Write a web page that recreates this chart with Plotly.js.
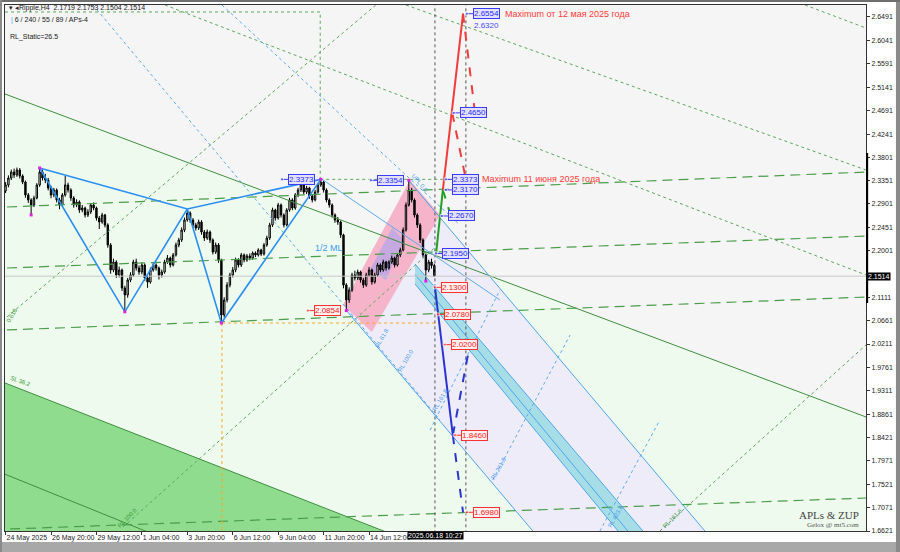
<!DOCTYPE html>
<html><head><meta charset="utf-8">
<script src="https://cdn.plot.ly/plotly-3.0.1.min.js"></script>
<style>html,body{margin:0;padding:0;background:#fff}#chart{width:900px;height:552px}</style>
</head><body><div id="chart"></div>
<script>
// ---- candles (H4 bars, index 0 = 26 May 20:00) ----
const barFirst = -16;
const barOpen = [2.3150,2.3265,2.3399,2.3514,2.3457,2.3553,2.3438,2.3322,2.3073,2.2977,
2.2881,2.3015,2.3265,2.3514,2.3399,2.3361,
2.3207,2.3073,2.3169,2.2977,2.2881,2.3073,2.3265,2.3169,2.3015,2.2881,
2.2938,2.2785,2.2823,2.2689,2.2746,2.2881,2.2823,2.2631,2.2554,2.2689,
2.2497,2.2113,2.1633,2.1786,2.1537,2.1633,2.1287,2.1153,2.1441,2.1537,
2.1786,2.1671,2.1594,2.1729,2.1479,2.1402,2.1633,2.1729,2.1671,2.1537,
2.1594,2.1786,2.1863,2.1729,2.1921,2.2113,2.2209,2.2401,2.2593,2.2727,
2.2593,2.2497,2.2439,2.2554,2.2362,2.2247,2.2362,2.2209,2.1978,2.2113,
2.1825,2.0769,2.1057,2.1345,2.1537,2.1633,2.1825,2.1729,2.1921,2.1825,
2.1902,2.1863,2.1959,2.1921,2.2017,2.1940,2.2113,2.2247,2.2497,2.2785,
2.2631,2.2881,2.2689,2.2497,2.2785,2.2977,2.2823,2.3073,2.3169,2.3265,
2.3130,2.3207,2.3054,2.2977,2.3130,2.3265,2.3322,2.3169,2.2977,2.2881,
2.2689,2.2593,2.2554,2.2305,2.1345,2.1057,2.1249,2.1537,2.1479,2.1594,
2.1441,2.1345,2.1537,2.1633,2.1402,2.1537,2.1729,2.1633,2.1786,2.1671,
2.1786,2.1863,2.1729,2.1921,2.2017,2.2401,2.2881,2.3169,2.2977,2.2689,
2.2497,2.2209,2.1921,2.1633,2.1786,2.1719];
const barHigh = [2.3320,2.3450,2.3560,2.3580,2.3600,2.3590,2.3470,2.3350,2.3110,2.3010,
2.3060,2.3300,2.3591,2.3560,2.3480,2.3400,
2.3250,2.3210,2.3200,2.3020,2.3110,2.3440,2.3310,2.3200,2.3050,2.2990,
2.2970,2.2880,2.2850,2.2800,2.2920,2.2930,2.2850,2.2670,2.2730,2.2710,
2.2530,2.2150,2.1850,2.1820,2.1700,2.1660,2.1330,2.1480,2.1590,2.1830,
2.1850,2.1720,2.1780,2.1760,2.1520,2.1680,2.1770,2.1760,2.1700,2.1640,
2.1830,2.1920,2.1890,2.1960,2.2160,2.2250,2.2450,2.2640,2.2805,2.2760,
2.2630,2.2540,2.2600,2.2590,2.2400,2.2410,2.2390,2.2240,2.2160,2.2150,
2.1850,2.1110,2.1400,2.1580,2.1690,2.1870,2.1860,2.1960,2.1950,2.1940,
2.1950,2.1990,2.1990,2.2050,2.2040,2.2150,2.2290,2.2540,2.2830,2.2810,
2.2920,2.2910,2.2720,2.2820,2.3020,2.3010,2.3110,2.3210,2.3300,2.3290,
2.3250,2.3230,2.3090,2.3170,2.3300,2.3373,2.3350,2.3200,2.3010,2.2910,
2.2720,2.2650,2.2580,2.2330,2.1380,2.1300,2.1580,2.1620,2.1640,2.1620,
2.1480,2.1580,2.1690,2.1660,2.1580,2.1770,2.1760,2.1830,2.1810,2.1820,
2.1910,2.1890,2.1960,2.2060,2.2450,2.2930,2.3354,2.3210,2.3010,2.2720,
2.2530,2.2240,2.1950,2.1830,2.1850,2.1753];
const barLow = [2.3110,2.3220,2.3360,2.3400,2.3420,2.3390,2.3280,2.3020,2.2920,2.2690,
2.2840,2.2990,2.3230,2.3350,2.3300,2.3160,
2.3010,2.3030,2.2930,2.2800,2.2850,2.3040,2.3120,2.2960,2.2830,2.2840,
2.2730,2.2740,2.2640,2.2650,2.2710,2.2780,2.2580,2.2420,2.2520,2.2450,
2.2060,2.1560,2.1590,2.1480,2.1490,2.1230,2.0830,2.1100,2.1400,2.1500,
2.1620,2.1540,2.1550,2.1420,2.1290,2.1370,2.1600,2.1620,2.1450,2.1490,
2.1560,2.1750,2.1680,2.1700,2.1890,2.2070,2.2170,2.2360,2.2560,2.2540,
2.2440,2.2390,2.2400,2.2310,2.2190,2.2210,2.2150,2.1930,2.1940,2.1770,
2.0615,2.0720,2.1010,2.1300,2.1490,2.1590,2.1680,2.1690,2.1780,2.1790,
2.1820,2.1830,2.1880,2.1890,2.1900,2.1910,2.2080,2.2210,2.2460,2.2580,
2.2600,2.2640,2.2450,2.2470,2.2750,2.2780,2.2790,2.3030,2.3130,2.3080,
2.3090,2.3000,2.2930,2.2950,2.3100,2.3230,2.3120,2.2930,2.2830,2.2640,
2.2540,2.2500,2.2250,2.1280,2.0854,2.1000,2.1210,2.1430,2.1440,2.1390,
2.1290,2.1310,2.1500,2.1350,2.1370,2.1500,2.1590,2.1600,2.1620,2.1640,
2.1750,2.1680,2.1700,2.1880,2.1990,2.2370,2.2850,2.2930,2.2640,2.2440,
2.2150,2.1870,2.1420,2.1590,2.1660,2.1504];
const barClose = [2.3265,2.3399,2.3514,2.3457,2.3553,2.3438,2.3322,2.3073,2.2977,2.2881,
2.3015,2.3265,2.3514,2.3399,2.3361,2.3207,
2.3073,2.3169,2.2977,2.2881,2.3073,2.3265,2.3169,2.3015,2.2881,2.2938,
2.2785,2.2823,2.2689,2.2746,2.2881,2.2823,2.2631,2.2554,2.2689,2.2497,
2.2113,2.1633,2.1786,2.1537,2.1633,2.1287,2.1153,2.1441,2.1537,2.1786,
2.1671,2.1594,2.1729,2.1479,2.1402,2.1633,2.1729,2.1671,2.1537,2.1594,
2.1786,2.1863,2.1729,2.1921,2.2113,2.2209,2.2401,2.2593,2.2727,2.2593,
2.2497,2.2439,2.2554,2.2362,2.2247,2.2362,2.2209,2.1978,2.2113,2.1825,
2.0769,2.1057,2.1345,2.1537,2.1633,2.1825,2.1729,2.1921,2.1825,2.1902,
2.1863,2.1959,2.1921,2.2017,2.1940,2.2113,2.2247,2.2497,2.2785,2.2631,
2.2881,2.2689,2.2497,2.2785,2.2977,2.2823,2.3073,2.3169,2.3265,2.3130,
2.3207,2.3054,2.2977,2.3130,2.3265,2.3322,2.3169,2.2977,2.2881,2.2689,
2.2593,2.2554,2.2305,2.1345,2.1057,2.1249,2.1537,2.1479,2.1594,2.1441,
2.1345,2.1537,2.1633,2.1402,2.1537,2.1729,2.1633,2.1786,2.1671,2.1786,
2.1863,2.1729,2.1921,2.2017,2.2401,2.2881,2.3169,2.2977,2.2689,2.2497,
2.2209,2.1921,2.1633,2.1786,2.1719,2.1514];
const barIndex = barClose.map((_, i) => barFirst + i);

// ---- axes ----
const xTickVals = [-16, 0, 16, 32, 48, 64, 80, 96, 112];
const xTickText = ["24 May 2025","26 May 20:00","29 May 12:00","1 Jun 04:00","3 Jun 20:00","6 Jun 12:00","9 Jun 04:00","11 Jun 20:00","14 Jun 12:00"];
const yTickVals = [2.6491,2.6041,2.5591,2.5141,2.4691,2.4241,2.3801,2.3351,2.2901,2.2451,2.2001,2.1111,2.0661,2.0211,1.9761,1.9311,1.8861,1.8421,1.7971,1.7521,1.7071,1.6621];
const yTickText = yTickVals.map(v => v.toFixed(4));
const lastPrice = 2.1514;

// ---- pattern (zigzag) ----
const zigBars = [-4, 26, 48, 60, 95];
const zigPrices = [2.3591, 2.0830, 2.2805, 2.0615, 2.3373];
const zigOuterBars = [-4, 48, 95];
const zigOuterPrices = [2.3591, 2.2805, 2.3373];
const pivotBars = [-4, -7, 26, 60, 95, 104, 126, 132];
const pivotPrices = [2.3591, 2.2690, 2.0830, 2.0615, 2.3373, 2.0854, 2.3354, 2.1420];

// ---- projection targets ----
const greenUpBars = [135.6, 138.0];   const greenUpPrices = [2.1950, 2.3170];
const greenBackBars = [138.0, 140.8]; const greenBackPrices = [2.3170, 2.2670];
const redUpBars = [138.0, 145.1];     const redUpPrices = [2.3170, 2.6554];
const redBack1Bars = [145.1, 149.3];  const redBack1Prices = [2.6554, 2.4650];
const redBack2Bars = [141.3, 146.1];  const redBack2Prices = [2.4650, 2.3373];
const blueDownBars = [135.2, 141.5];  const blueDownPrices = [2.1300, 1.8460];
const blueBack1Bars = [141.5, 147.5]; const blueBack1Prices = [1.8460, 2.0200];
const blueDown2Bars = [141.5, 145.1]; const blueDown2Prices = [1.8460, 1.6980];

const upTargets = [["2.6554",148.6],["2.4650",144.0],["2.3373",141.2],["2.3170",141.2],["2.2670",139.8],["2.1950",137.7]];
const downTargets = [["2.1300",137.3],["2.0780",138.4],["2.0200",140.8],["1.8460",144.4],["1.6980",148.6]];

// ---- channels / fans (bar, price endpoints) ----
const greenDash = [
  {b:[-15.5, 287.3], p:[2.0481, 2.1114]},
  {b:[-15.5, 287.3], p:[2.1671, 2.2285]},
  {b:[-15.5, 287.3], p:[2.2842, 2.3514]},
  {b:[-14.4, 287.3], p:[1.6660, 1.7255]}];
const greenDot = [
  {b:[-15.5, 114.4], p:[2.0730, 2.6721]},
  {b:[25.4, 137.0], p:[1.6698, 2.2151]},
  {b:[214.4, 287.0], p:[1.6621, 2.0193]},
  {b:[125.0, 287.0], p:[2.6721, 2.3553]},
  {b:[40.1, 287.0], p:[2.6721, 2.1537]},
  {b:[265.5, 287.0], p:[2.6721, 2.6279]},
  {b:[-16.2, 94.8, 94.8], p:[2.6587, 2.6587, 2.3373]},
  {b:[94.8, 146.1], p:[2.3373, 2.3373]}];
const trendLine = {b:[-20, 290], p:[2.5090, 1.8749]};
const greenZone = {b:[-20, 290, 290, -20], p:[2.5090, 1.8749, 1.60, 1.60]};
const darkZone = {b:[-20, 125, -20], p:[1.9544, 1.6453, 1.6453]};
const darkInner = {b:[-20, 36], p:[1.7795, 1.6560]};
const forkZone = {b:[104.2, 126.1, 233.7, 173.1], p:[2.0845, 2.3342, 1.64, 1.64]};
const forkA = {b:[126.1, 233.7], p:[2.3342, 1.64]};
const forkB = {b:[104.2, 173.1], p:[2.0845, 1.64]};
const bandZone = {b:[128.2, 211.9, 203.0, 128.2], p:[2.1748, 1.64, 1.64, 2.1364]};
const bandUpper = {b:[128.2, 211.9], p:[2.1748, 1.64]};
const bandMid = {b:[128.2, 206.5], p:[2.1546, 1.64]};
const bandLower = {b:[128.2, 203.0], p:[2.1364, 1.64]};
const pinkZone = {b:[102.8, 126.4, 137.0, 113.0], p:[2.0961, 2.3361, 2.2689, 2.0443]};
const purpleZone = {b:[112.3, 120.1, 124.3, 118.0], p:[2.1633, 2.2439, 2.2209, 2.1441]};
const blueDot = [
  {b:[14.8, 137.0], p:[2.6721, 1.8752]},
  {b:[60.2, 144.0], p:[2.6721, 2.2497]},
  {b:[133.5, 158.1], p:[1.8560, 2.1249]},
  {b:[155.6, 182.8], p:[1.7600, 2.0385]},
  {b:[193.3, 214.4], p:[1.6621, 1.8752]}];
const blueThin = {b:[95.8, 158.1], p:[2.3361, 2.1057]};
const orangeDot = {b:[60.2, 137.0, null, 60.2, 60.2], p:[2.0615, 2.0615, null, 2.0615, 1.60]};
const timeMarks = [135.2, 146.1];

const rlLabels = [
  ["RL 61.8",116.5,2.0327,-60,"#4a9ff0"],["RL 100.0",125.0,1.9905,-60,"#4a9ff0"],
  ["RL 161.8",137.0,1.9137,-60,"#4a9ff0"],["RL 261.8",157.7,1.7831,-60,"#4a9ff0"],
  ["RL 423.6",198.9,1.6909,-60,"#4a9ff0"],["UPL 0.0",129.9,2.3303,50,"#4a9ff0"],
  ["RL 161.8",219.0,1.6871,-45,"#3a9a3a"],["RL 100.0",26.8,1.6871,-45,"#3a9a3a"],
  ["SL 38.2",-10.9,1.9501,20,"#3a9a3a"],["0.618",-13.7,2.0769,-60,"#3a9a3a"]];

// ---- build ----
const traces = [];
const shapes = [];
function poly(z, color){
  const d = z.b.map((b, i) => (i ? 'L' : 'M') + b + ',' + z.p[i]).join(' ') + ' Z';
  shapes.push({type:'path', xref:'x', yref:'y', path:d, fillcolor:color, line:{width:0}, layer:'below'});
}
function seg(b, p, color, width, dash){ traces.push({type:'scatter', x:b, y:p, mode:'lines', line:{color:color, width:width, dash:dash||'solid'}, hoverinfo:'skip', connectgaps:false}); }

poly(greenZone, '#eefaee');
poly(darkZone, '#8fdc8f');
poly(forkZone, '#efecfa');
poly(bandZone, '#a6dde6');
poly(pinkZone, '#f6b4cb');
poly(purpleZone, '#c7a9e2');

traces.push({type:'candlestick', x:barIndex, open:barOpen, high:barHigh, low:barLow, close:barClose,
  increasing:{line:{color:'#000000', width:1}, fillcolor:'#ffffff'},
  decreasing:{line:{color:'#000000', width:1}, fillcolor:'#000000'},
  whiskerwidth:0, hoverinfo:'skip'});

seg(trendLine.b, trendLine.p, '#3f8f3f', 1);
seg(darkZone.b.slice(0,2), darkZone.p.slice(0,2), '#3f8f3f', 1);
seg(darkInner.b, darkInner.p, '#3f8f3f', 1);
greenDash.forEach(d => seg(d.b, d.p, '#4a9e4a', 1.2, '10px,6px'));
greenDot.forEach(d => seg(d.b, d.p, '#5aa85a', 1, 'dot'));
blueDot.forEach(d => seg(d.b, d.p, '#5aaaf0', 1, 'dot'));
seg(blueThin.b, blueThin.p, '#5aaaf0', 1);
seg(forkA.b, forkA.p, '#4aa6ee', 1);
seg(forkB.b, forkB.p, '#4aa6ee', 1);
seg(bandUpper.b, bandUpper.p, '#4aa6ee', 1);
seg(bandMid.b, bandMid.p, '#4aa6ee', 1);
seg(bandLower.b, bandLower.p, '#4aa6ee', 1);
seg([-20, 290], [lastPrice, lastPrice], '#c8c8c8', 1);
seg(orangeDot.b, orangeDot.p, '#f5a623', 1, 'dot');
timeMarks.forEach(t => seg([t, t], [1.60, 2.70], '#555555', 1, 'dot'));

seg(zigBars, zigPrices, '#2a8ff0', 1.6);
seg(zigOuterBars, zigOuterPrices, '#2a8ff0', 1.6);
traces.push({type:'scatter', x:pivotBars, y:pivotPrices, mode:'markers', marker:{symbol:'square', size:3, color:'#e020e0'}, hoverinfo:'skip'});
seg(greenUpBars, greenUpPrices, '#22a022', 2);
seg(greenBackBars, greenBackPrices, '#22a022', 2, 'dash');
seg(redUpBars, redUpPrices, '#f03c3c', 2);
seg(redBack1Bars, redBack1Prices, '#f03c3c', 2, 'dash');
seg(redBack2Bars, redBack2Prices, '#f03c3c', 2, 'dash');
seg(blueDownBars, blueDownPrices, '#2a35d0', 2);
seg(blueBack1Bars, blueBack1Prices, '#2a35d0', 2, 'dash');
seg(blueDown2Bars, blueDown2Prices, '#2a35d0', 2, 'dash');

// ---- annotations ----
const ann = [];
const F = 'Liberation Sans, Arial, sans-serif';
function box(txt, b, up){
  const p = parseFloat(txt), col = up ? '#3a3aff' : '#ff3030';
  traces.push({type:'scatter', x:[b - 2.2, b], y:[p, p], mode:'lines+markers', line:{color:col, width:1},
    marker:{symbol:'square', size:[3, 0], color:col}, hoverinfo:'skip'});
  ann.push({x:b, y:p, xref:'x', yref:'y', text:txt, showarrow:false, xanchor:'left', yanchor:'middle',
    font:{family:F, size:8, color: up ? '#2a2aff' : '#ff2020'}, bgcolor: up ? '#e2e2ff' : '#fff0f0',
    bordercolor: col, borderwidth:1, borderpad:0});
}
upTargets.forEach(t => box(t[0], t[1], true));
downTargets.forEach(t => box(t[0], t[1], false));
box("2.3373", 83.5, true);
box("2.3354", 114.8, true);
box("2.0854", 92.6, false);
ann.push({x:148.2, y:2.6320, xref:'x', yref:'y', text:'2.6320', showarrow:false, xanchor:'left', font:{family:F,size:8,color:'#4a4aff'}});
ann.push({x:159.2, y:2.6554, xref:'x', yref:'y', text:'Maximum от 12 мая 2025 года', showarrow:false, xanchor:'left', font:{family:F,size:9,color:'#ff3b3b'}});
ann.push({x:151.1, y:2.3373, xref:'x', yref:'y', text:'Maximum 11 июня 2025 года', showarrow:false, xanchor:'left', font:{family:F,size:9,color:'#ff3b3b'}});
ann.push({x:98, y:2.2055, xref:'x', yref:'y', text:'1/2 ML', showarrow:false, font:{family:F,size:9,color:'#3d9bf0'}});
rlLabels.forEach(l => ann.push({x:l[1], y:l[2], xref:'x', yref:'y', text:l[0], textangle:l[3], showarrow:false, font:{family:F,size:6,color:l[4]}}));
ann.push({x:1.0, y:lastPrice, xref:'paper', yref:'y', text:'2.1514', showarrow:false, xanchor:'left', xshift:1, bgcolor:'#000', font:{family:F,size:7,color:'#fff'}, borderpad:0});
ann.push({x:125.4, y:-0.0095, xref:'x', yref:'paper', text:'2025.06.18 10:27', showarrow:false, xanchor:'left', yanchor:'middle', bgcolor:'#000', font:{family:F,size:7,color:'#fff'}, borderpad:0});
ann.push({x:0.0023, y:0.9943, xref:'paper', yref:'paper', text:'▾ ◂Ripple,H4  2.1719 2.1753 2.1504 2.1514', showarrow:false, xanchor:'left', yanchor:'middle', font:{family:F,size:7,color:'#222'}});
ann.push({x:0.005, y:0.9715, xref:'paper', yref:'paper', text:'<span style="color:#3a9cf0">|</span> 6 / 240 / 55 / 89 / APs-4', showarrow:false, xanchor:'left', yanchor:'middle', font:{family:F,size:7,color:'#222'}});
ann.push({x:0.0035, y:0.939, xref:'paper', yref:'paper', text:'RL_Static=26.5', showarrow:false, xanchor:'left', yanchor:'middle', font:{family:F,size:7,color:'#222'}});
ann.push({x:0.9942, y:0.0295, xref:'paper', yref:'paper', text:'APLs & ZUP', showarrow:false, xanchor:'right', yanchor:'middle', font:{family:'Liberation Serif, serif',size:11,color:'#444'}});
ann.push({x:0.9942, y:0.0105, xref:'paper', yref:'paper', text:'Gelox @ mt5.com', showarrow:false, xanchor:'right', yanchor:'middle', font:{family:'Liberation Serif, serif',size:7,color:'#555'}});

shapes.push(
  {type:'rect', xref:'paper', yref:'paper', x0:-0.01, x1:1.045, y0:-0.045, y1:-0.0209, fillcolor:'#a8a8a8', line:{width:0}},
  {type:'rect', xref:'paper', yref:'paper', x0:1.0348, x1:1.045, y0:-0.045, y1:1.02, fillcolor:'#8a8a8a', line:{width:0}},
  {type:'rect', xref:'paper', yref:'paper', x0:-0.01, x1:1.045, y0:1.0057, y1:1.02, fillcolor:'#6e6e6e', line:{width:0}},
  {type:'rect', xref:'paper', yref:'paper', x0:-0.01, x1:-0.0035, y0:-0.045, y1:1.02, fillcolor:'#8a8a8a', line:{width:0}},
  {type:'rect', xref:'paper', yref:'paper', x0:1.0, x1:1.0025, y0:0.4335, y1:0.7186, fillcolor:'#000', line:{width:0}}
);

const layout = {
  width:900, height:552, margin:{l:5, r:34, t:5, b:21},
  paper_bgcolor:'#ffffff', plot_bgcolor:'#f5f5f5', showlegend:false, hovermode:false,
  font:{family:F, size:7, color:'#222'},
  xaxis:{range:[-16.2, 287.0], showgrid:false, zeroline:false, rangeslider:{visible:false},
    tickmode:'array', tickvals:xTickVals, ticktext:xTickText, ticks:'outside', ticklen:3, tickcolor:'#333',
    ticklabelposition:'outside right', tickangle:0, tickfont:{family:F, size:7, color:'#222'},
    showline:true, linecolor:'#333', linewidth:1, mirror:true, fixedrange:true},
  yaxis:{range:[1.6621, 2.6721], side:'right', showgrid:false, zeroline:false,
    tickmode:'array', tickvals:yTickVals, ticktext:yTickText, ticks:'outside', ticklen:3, tickcolor:'#333',
    tickfont:{family:F, size:7, color:'#222'}, showline:true, linecolor:'#333', linewidth:1, mirror:true, fixedrange:true},
  annotations:ann, shapes:shapes
};
Plotly.newPlot('chart', traces, layout, {staticPlot:true, displayModeBar:false});
</script></body></html>
